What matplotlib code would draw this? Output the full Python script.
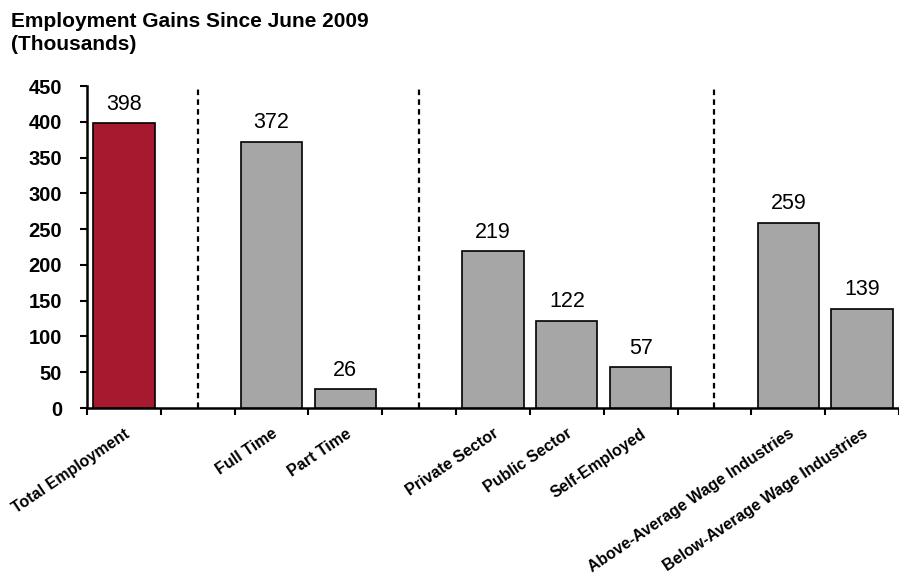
import numpy as np
import matplotlib
matplotlib.use("Agg")
import matplotlib.pyplot as plt

# data (thousands of jobs since June 2009)
groups = [
    ["Total Employment"],
    ["Full Time", "Part Time"],
    ["Private Sector", "Public Sector", "Self-Employed"],
    ["Above-Average Wage Industries", "Below-Average Wage Industries"],
]
values = [398, 372, 26, 219, 122, 57, 259, 139]
y_ticks = [0, 50, 100, 150, 200, 250, 300, 350, 400, 450]

title = "Employment Gains Since June 2009\n(Thousands)"

RED = "#A6192E"
GREY = "#A6A6A6"
FONT = ["Liberation Sans", "DejaVu Sans"]


def slot_layout(groups):
    # one empty slot between groups, the divider sits in it
    positions, labels, dividers = [], [], []
    slot = 0
    for i, grp in enumerate(groups):
        if i > 0:
            dividers.append(slot)
            slot += 1
        for name in grp:
            positions.append(slot)
            labels.append(name)
            slot += 1
    return positions, labels, dividers, slot


def main():
    positions, labels, dividers, n_slots = slot_layout(groups)
    colors = [RED] + [GREY] * (len(values) - 1)

    fig = plt.figure(figsize=(8.99, 5.78), dpi=100)
    ax = fig.add_axes([87 / 899, 1 - 408 / 578, 812 / 899, (408 - 86) / 578])

    ax.bar(positions, values, width=0.83, color=colors, edgecolor="black",
           linewidth=1.2, zorder=3)

    for x, v in zip(positions, values):
        ax.annotate(str(v), (x, v), xytext=(0, 6), textcoords="offset points",
                    ha="center", va="bottom", fontsize=15.5, family=FONT)

    for d in dividers:
        ax.axvline(d, color="black", linewidth=1.6, linestyle=(0, (2.5, 1.9)),
                   zorder=2)

    ax.set_ylim(0, 450)
    ax.set_xlim(-0.5, -0.5 + 812 / 74.2)
    ax.set_yticks(y_ticks)
    ax.set_yticklabels([str(t) for t in y_ticks], fontsize=14.5,
                       fontweight="bold", family=FONT)
    ax.tick_params(axis="y", direction="out", length=5, width=1.5, pad=13)

    # major ticks on slot edges, labels on bar centres
    ax.set_xticks(np.arange(-0.5, n_slots, 1.0))
    ax.set_xticklabels([])
    ax.tick_params(axis="x", which="major", direction="out", length=5,
                   width=1.5)
    ax.set_xticks(positions, minor=True)
    ax.set_xticklabels(labels, minor=True, rotation=34, ha="right",
                       rotation_mode="anchor", fontsize=11.5,
                       fontweight="bold", family=FONT)
    ax.tick_params(axis="x", which="minor", length=0, pad=13)

    for side in ["top", "right"]:
        ax.spines[side].set_visible(False)
    for side in ["left", "bottom"]:
        ax.spines[side].set_linewidth(1.8)

    fig.text(11 / 899, 1 - 12 / 578, title, ha="left", va="top", fontsize=15,
             fontweight="bold", family=FONT, linespacing=1.3)

    fig.savefig("out.png", dpi=100)


if __name__ == "__main__":
    main()
